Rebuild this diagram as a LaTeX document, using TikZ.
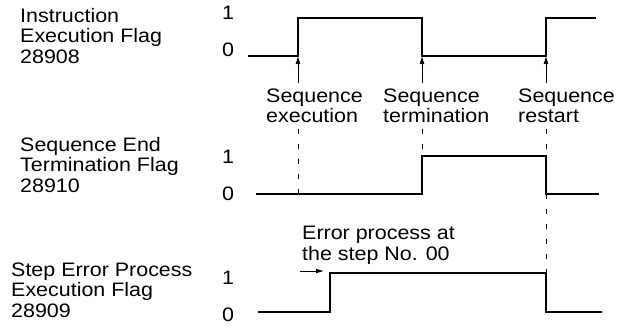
\documentclass[tikz,border=0pt]{standalone}
\usepackage{fontspec}
\setmainfont{Liberation Sans}[FakeStretch=1.1]
\usetikzlibrary{calc,positioning,arrows.meta}

\begin{document}
\begin{tikzpicture}[x=1pt, y=-1pt,
  font=\fontsize{19.5}{20.5}\selectfont,
  every node/.style={inner sep=0pt},
  wave/.style={line width=1.1pt},
  flagtext/.style={anchor=base west, align=left},
  seqarrow/.style={-{Latex[length=8pt,width=5pt]}, line width=0.9pt},
  guide/.style={line width=0.9pt, dash pattern=on 5pt off 10pt}]

  \useasboundingbox (0,0) rectangle (625,327);

  \def\xexe{298}
  \def\xend{422}
  \def\xres{546}
  \def\xerr{330}

  \newcommand{\levels}[3]{% #1=name, #2=y of 1, #3=y of 0
    \node (#1hi) at (228,#2) {1};
    \node (#1lo) at (228,#3) {0};
  }

  % flag names (anchored on the last line)
  \node[flagtext] (instr) at (20,63) {Instruction\\Execution Flag\\28908};
  \node[flagtext] (seqend) at (20,192) {Sequence End\\Termination Flag\\28910};
  \node[flagtext] (steperr) at (11,317) {Step Error Process\\Execution Flag\\28909};

  \levels{instr}{13}{50}
  \levels{seqend}{157}{194}
  \levels{steperr}{278}{315}

  % waveforms
  \draw[wave] (248,56) -- (\xexe,56) -- (\xexe,18) -- (\xend,18)
    -- (\xend,56) -- (\xres,56) -- (\xres,18) -- (596,18);
  \draw[wave] (256,194) -- (\xend,194) -- (\xend,156) -- (\xres,156)
    -- (\xres,194) -- (599,194);
  \draw[wave] (258,312) -- (\xerr,312) -- (\xerr,273) -- (\xres,273)
    -- (\xres,312) -- (602,312);

  % events
  \coordinate (exe) at (\xexe,56);
  \coordinate (term) at (\xend,56);
  \coordinate (rest) at (\xres,56);
  \coordinate (exelow) at (\xexe,194);
  \coordinate (termhigh) at (\xend,156);
  \coordinate (resthigh) at (\xres,156);
  \coordinate (restlow) at (\xres,194);
  \coordinate (errhigh) at (\xres,273);

  \node[flagtext] (lblexe) at (266,122.5) {Sequence\\execution};
  \node[flagtext] (lblterm) at (383,122.5) {Sequence\\termination};
  \node[flagtext] (lblrest) at (518,122.5) {Sequence\\restart};

  \draw[seqarrow] ($(exe |- lblexe.north)+(0,-5)$) -- (exe);
  \draw[seqarrow] ($(term |- lblterm.north)+(0,-5)$) -- (term);
  \draw[seqarrow] ($(rest |- lblrest.north)+(0,-5)$) -- (rest);

  \draw[guide] ($(exe |- lblexe.south)+(0,6)$) -- (exelow);
  \draw[guide] ($(term |- lblterm.south)+(0,6)$) -- (termhigh);
  \draw[guide] ($(rest |- lblrest.south)+(0,6)$) -- (resthigh);
  \draw[guide] (restlow) -- (errhigh);

  % step error
  \node[flagtext] (errlbl) at (302,260) {Error process at\\the step No. 00};
  \coordinate (errtail) at (300,271);
  \coordinate (errhead) at (324,271);
  \draw[seqarrow] (errtail) -- (errhead);
\end{tikzpicture}
\end{document}
